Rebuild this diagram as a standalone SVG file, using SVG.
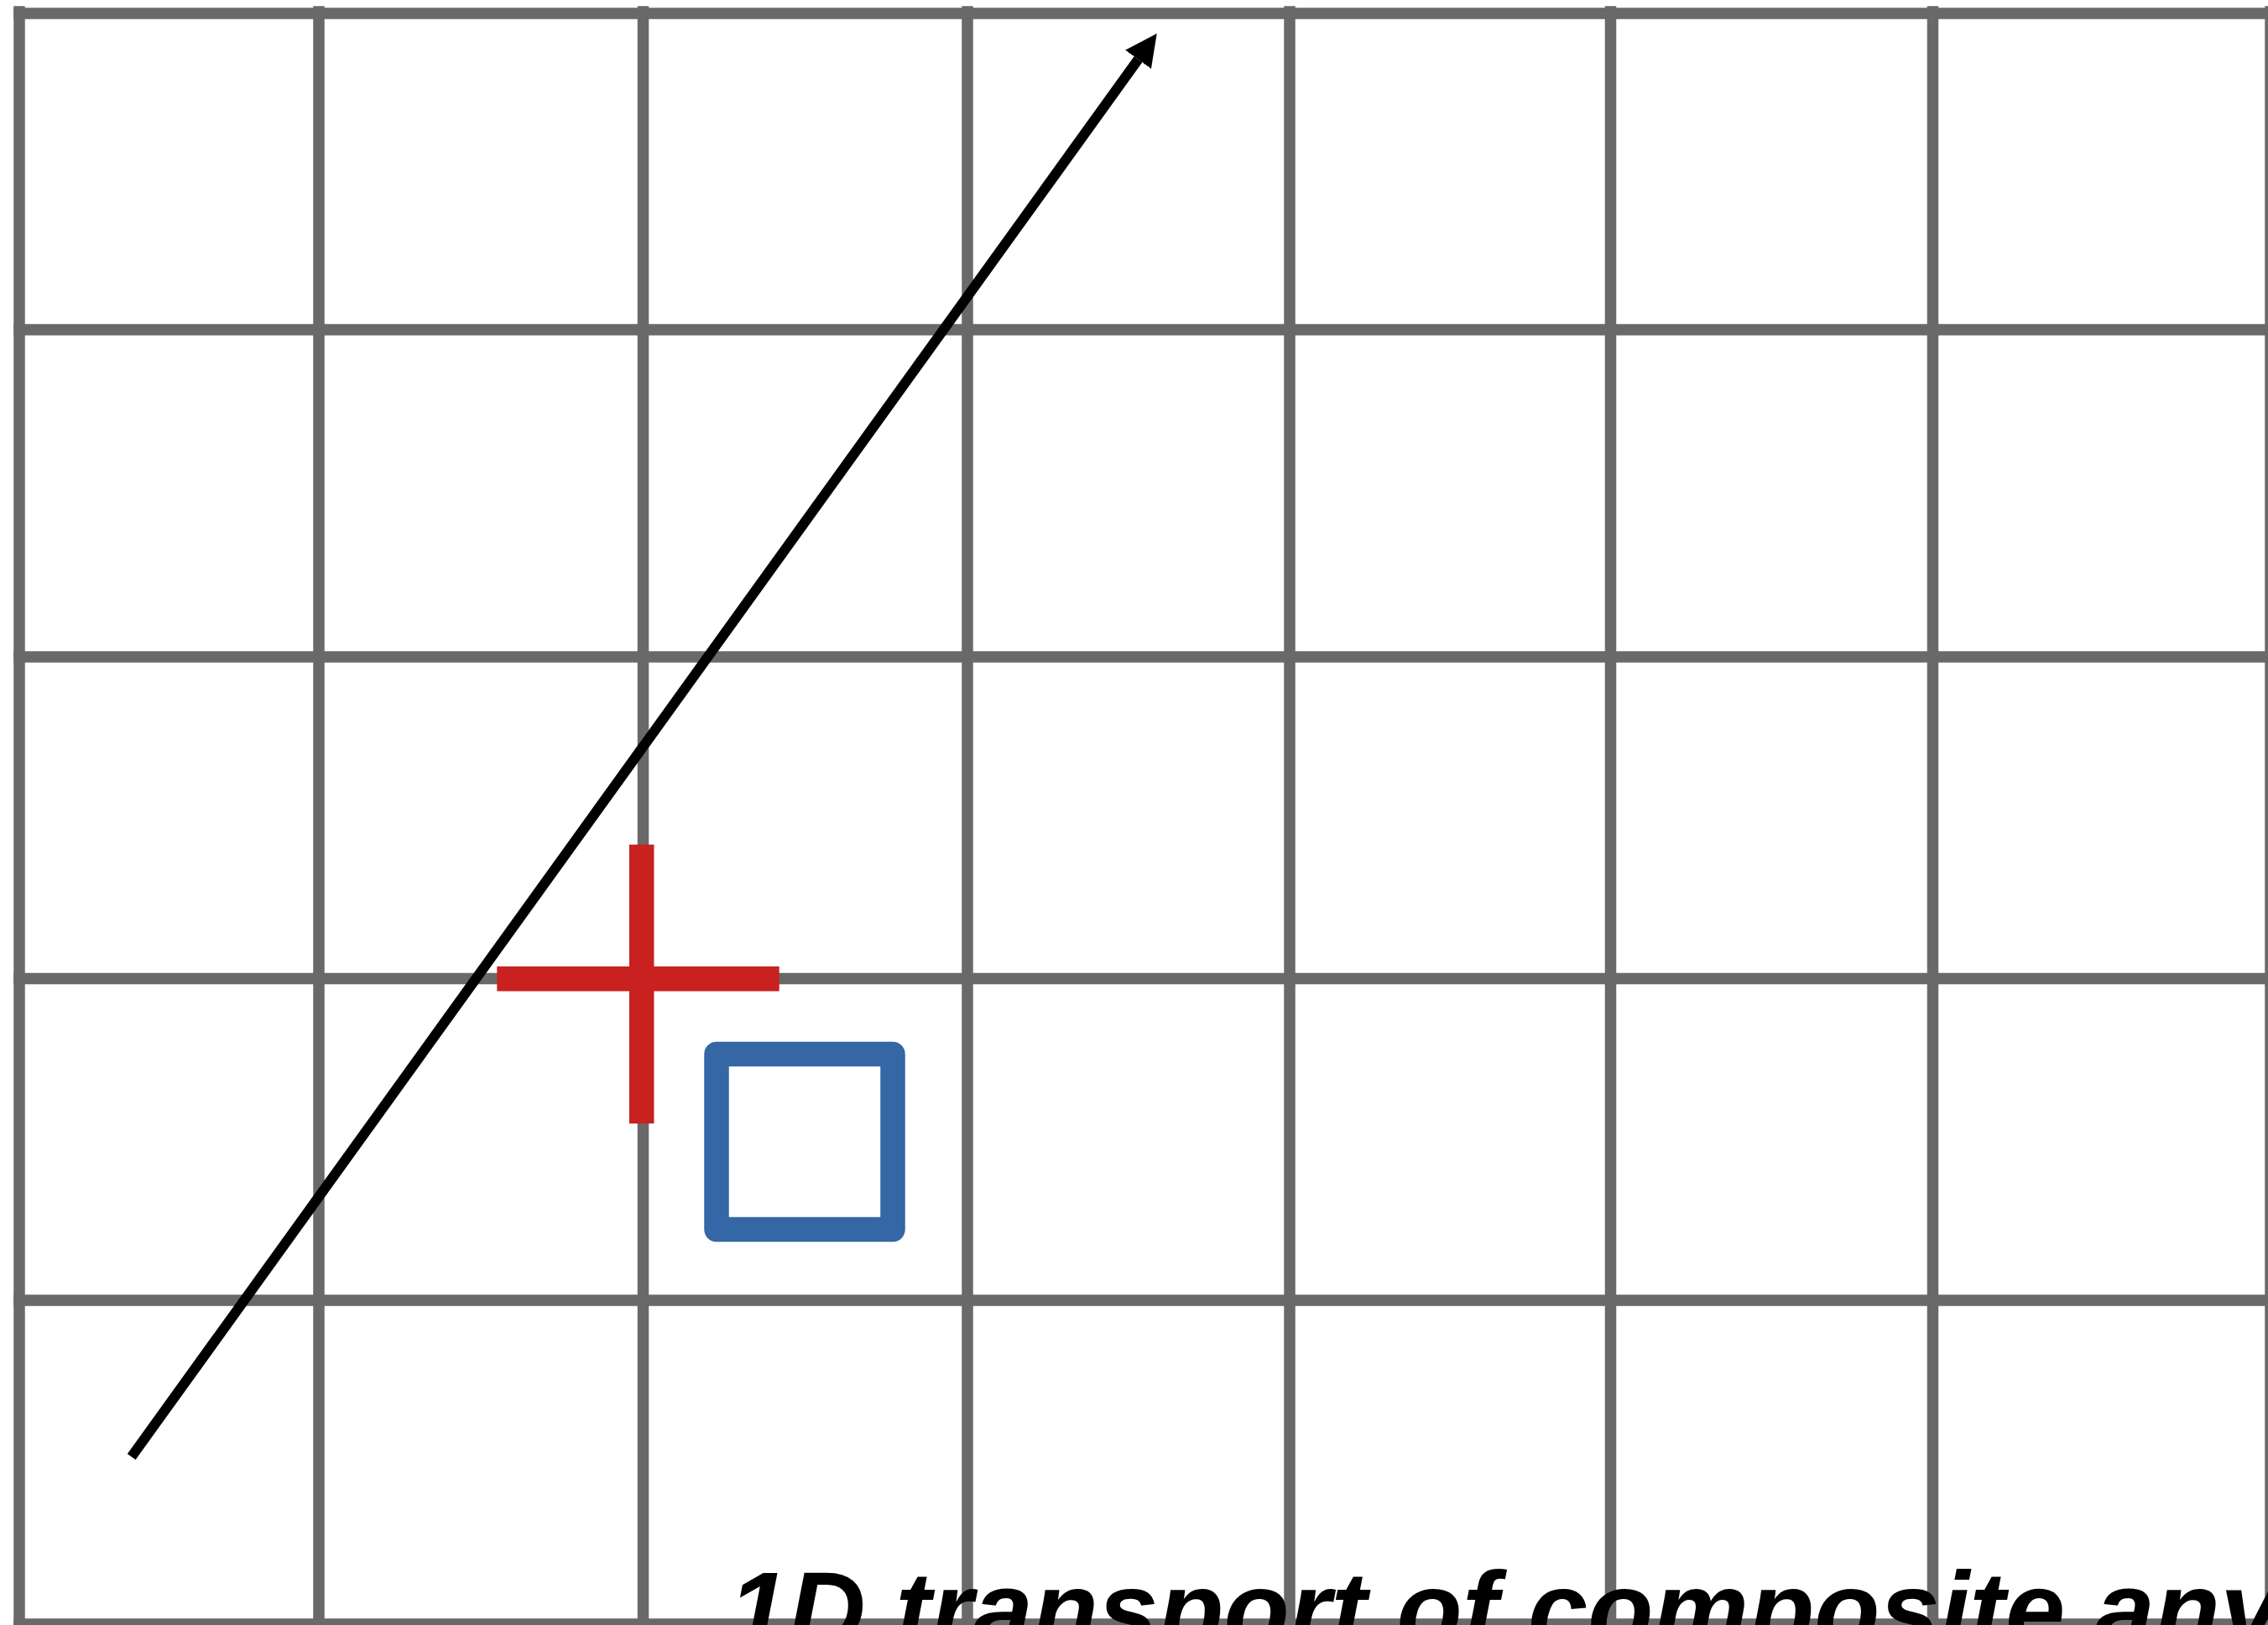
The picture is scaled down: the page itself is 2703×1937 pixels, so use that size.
<svg xmlns="http://www.w3.org/2000/svg" width="2703" height="1937" viewBox="0 0 2703 1937">
  <style>
    .grid line { stroke: #696969; stroke-width: 13.5; }
    .cross { stroke: #c8211f; stroke-width: 29.5; }
    .box { fill: none; stroke: #3566a5; stroke-width: 29.5; stroke-linejoin: round; }
    .path { stroke: #000; stroke-width: 12; fill: none; }
    .title { font-family: "Liberation Sans", Arial, sans-serif; font-weight: bold; font-style: italic; font-size: 128px; fill: #000; }
  </style>
  <defs>
    <marker id="arrowhead" markerUnits="userSpaceOnUse" markerWidth="38" markerHeight="38" viewBox="0 0 38 38" refX="0" refY="19" orient="auto">
      <path d="M0,0 L38,19 L0,38 z" fill="#000"/>
    </marker>
  </defs>
  <rect width="2703" height="1937" fill="#fff"/>
  <g id="grid" class="grid">
    <line x1="23" y1="7.3" x2="23" y2="1945"/>
    <line x1="380" y1="7.3" x2="380" y2="1945"/>
    <line x1="766.5" y1="7.3" x2="766.5" y2="1945"/>
    <line x1="1153" y1="7.3" x2="1153" y2="1945"/>
    <line x1="1537" y1="7.3" x2="1537" y2="1945"/>
    <line x1="1919.5" y1="7.3" x2="1919.5" y2="1945"/>
    <line x1="2303.5" y1="7.3" x2="2303.5" y2="1945"/>
    <line x1="2706" y1="7.3" x2="2706" y2="1945"/>
    <line x1="16.3" y1="16" x2="2712" y2="16"/>
    <line x1="16.3" y1="393" x2="2712" y2="393"/>
    <line x1="16.3" y1="783" x2="2712" y2="783"/>
    <line x1="16.3" y1="1166.5" x2="2712" y2="1166.5"/>
    <line x1="16.3" y1="1550" x2="2712" y2="1550"/>
    <line x1="16.3" y1="1936" x2="2712" y2="1936"/>
  </g>
  <g id="connectors">
    <line class="path" x1="156.7" y1="1736.5" x2="1356.5" y2="70.8" marker-end="url(#arrowhead)"/>
  </g>
  <g id="cross">
    <line class="cross" x1="764.7" y1="1006.7" x2="764.7" y2="1339.3"/>
    <line class="cross" x1="592.3" y1="1166.8" x2="928.7" y2="1166.8"/>
  </g>
  <g id="box">
    <rect class="box" x="854" y="1256.5" width="210" height="209"/>
  </g>
  <g id="title">
    <text class="title" x="868" y="1963">1D transport of composite any</text>
  </g>
</svg>
